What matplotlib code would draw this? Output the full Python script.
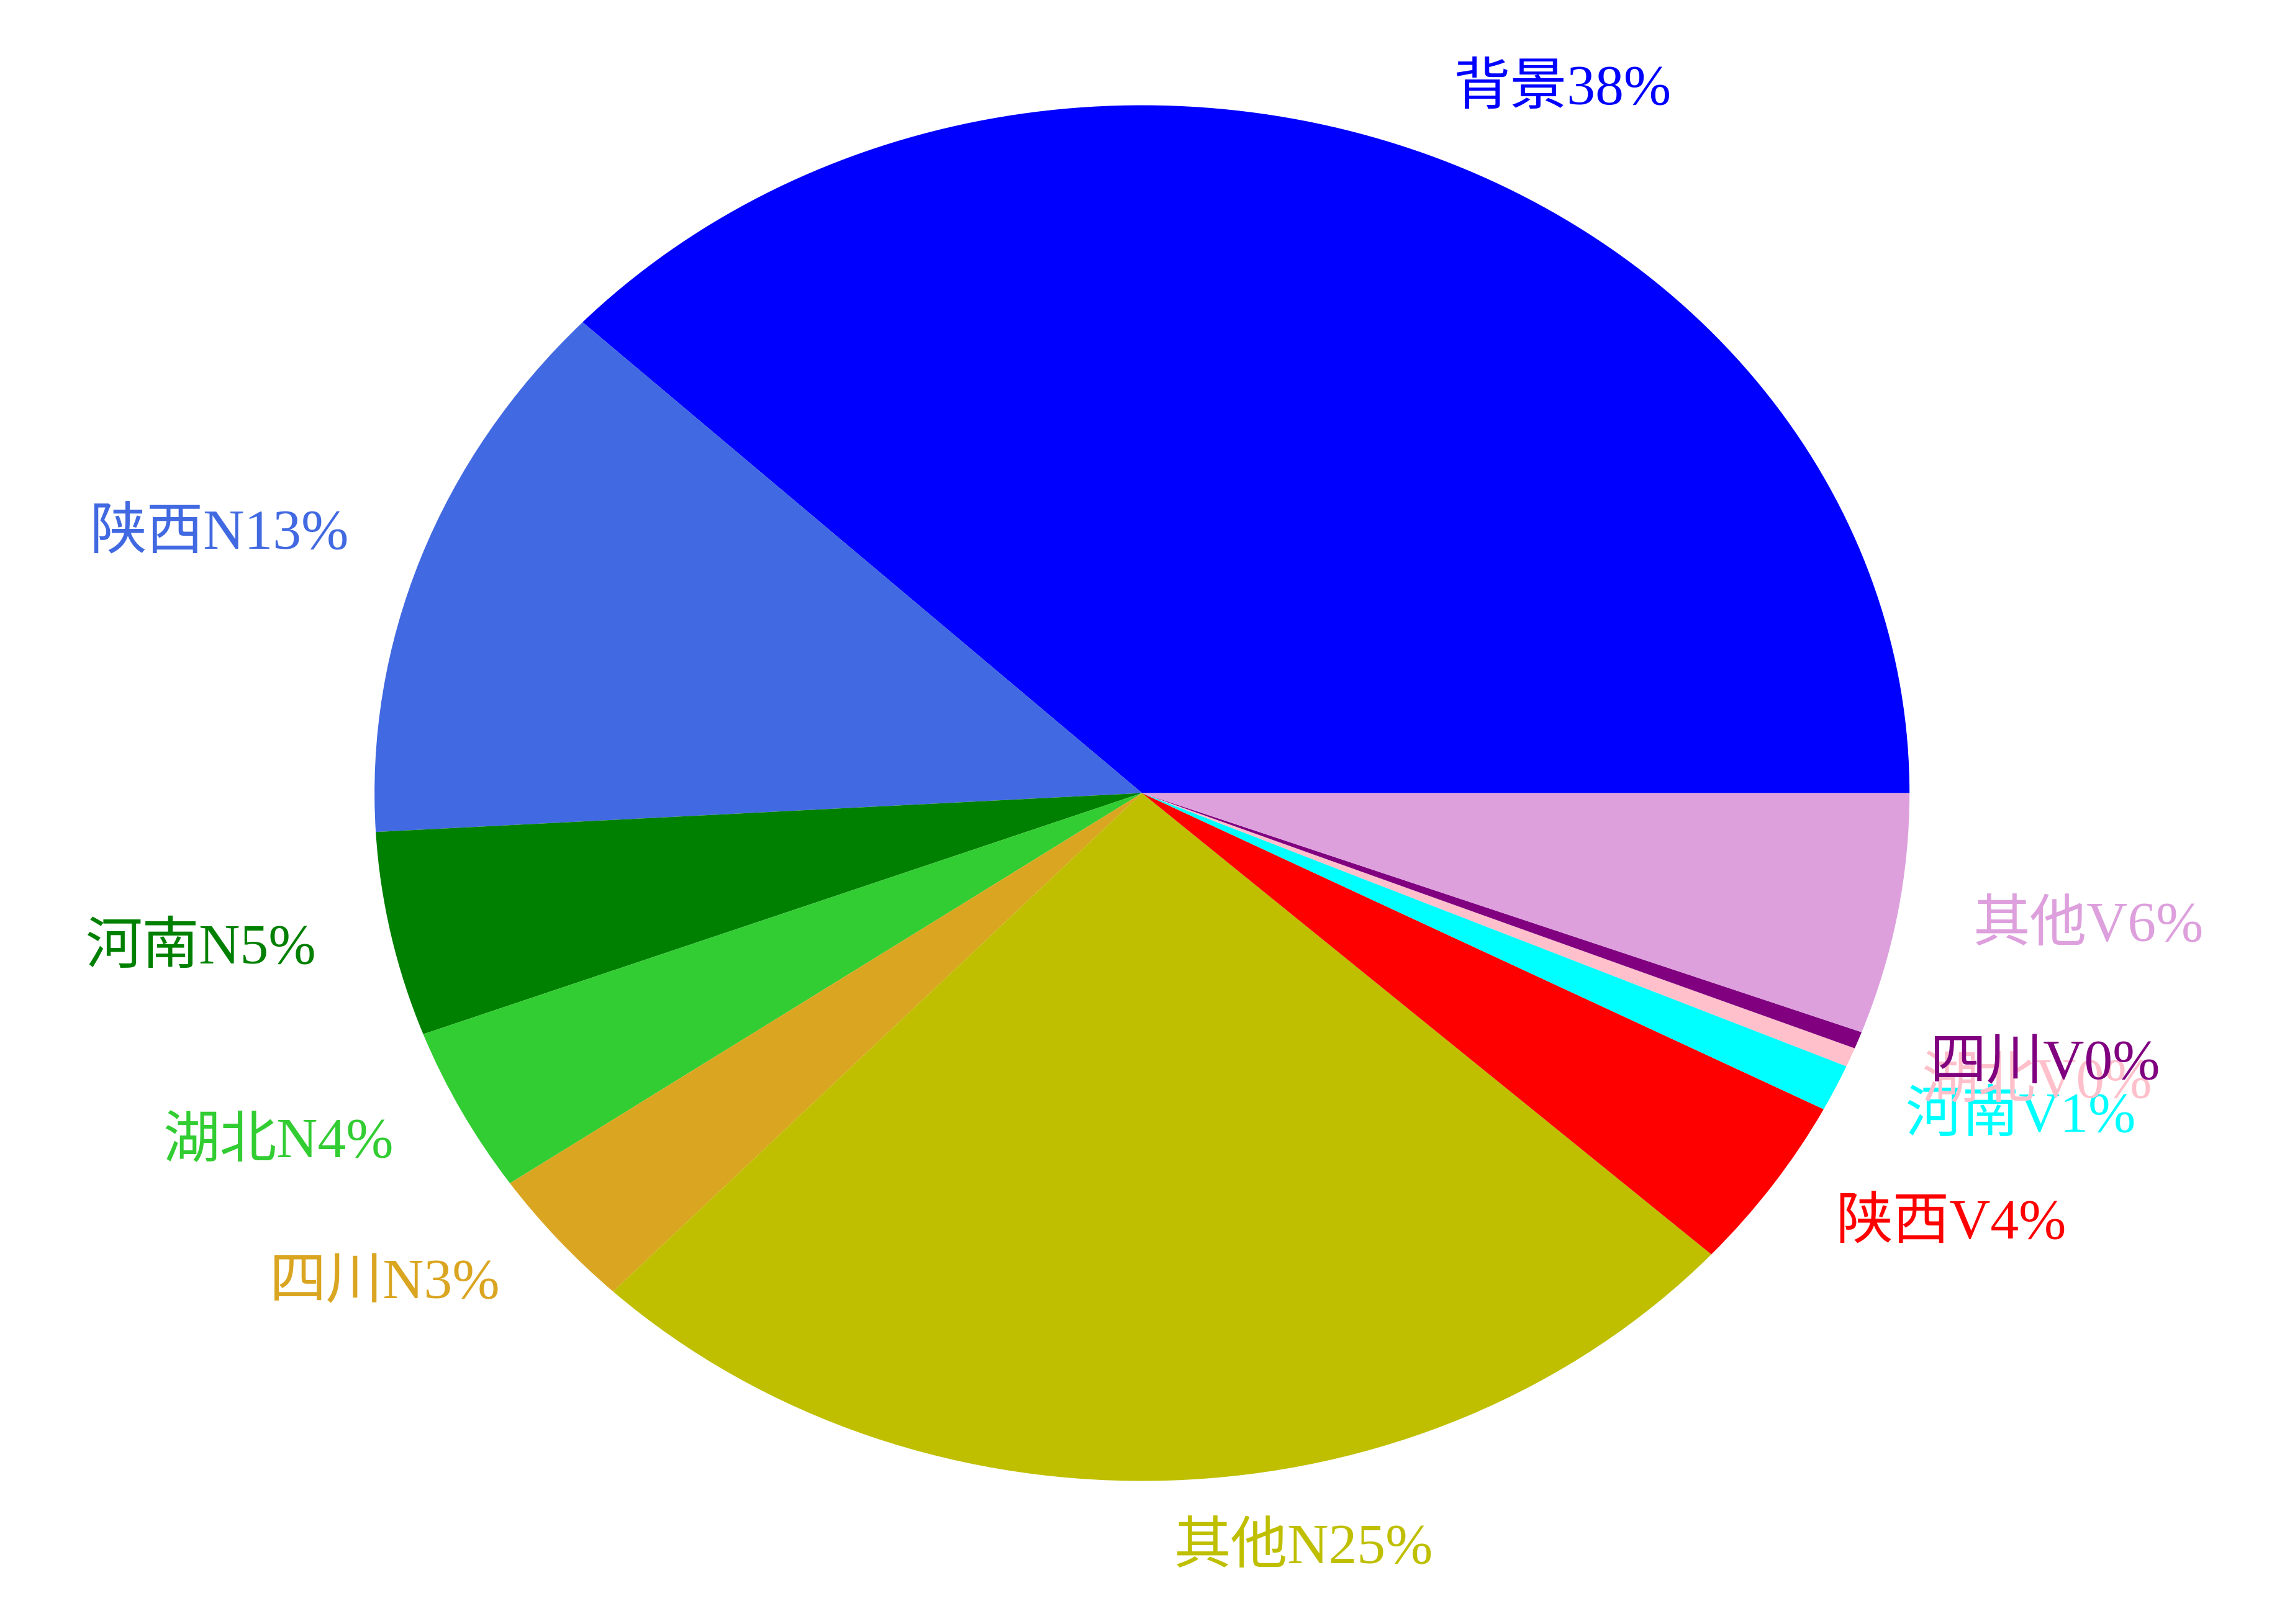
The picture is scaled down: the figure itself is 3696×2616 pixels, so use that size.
import matplotlib
matplotlib.use('Agg')
import matplotlib.pyplot as plt

# ── Data ───────────────────────────────────────────────────────────
names = ['背景', '陕西N', '河南N', '湖北N', '四川N', '其他N',
         '陕西V', '河南V', '湖北V', '四川V', '其他V']
shares = [38.0, 12.9, 4.8, 3.9, 3.3, 25.4, 4.1, 1.1, 0.45, 0.4, 5.65]
colors = ['blue', 'royalblue', 'green', 'limegreen', 'goldenrod', 'y',
          'red', 'cyan', 'pink', 'purple', 'plum']

total = sum(shares)
labels = [f'{n}{round(v / total * 100):d}%' for n, v in zip(names, shares)]

# ── Figure ─────────────────────────────────────────────────────────
fig = plt.figure(figsize=(12.323, 8.72), dpi=300, facecolor='white')
ax = fig.add_axes([0, 0, 1, 1])

wedges, texts = ax.pie(shares, labels=labels, colors=colors,
                       startangle=0, counterclock=True,
                       textprops=dict(fontsize=22,
                                      family=['Liberation Serif', 'Noto Sans CJK SC']))
for t, c in zip(texts, colors):
    t.set_color(c)

# stretched (elliptical) pie, as in the original
ax.set_aspect('auto')
ax.set_xlim(-1.488, 1.503)
ax.set_ylim(-1.208, 1.153)
ax.axis('off')

fig.savefig('out.png', dpi=300, facecolor='white')
plt.close(fig)
